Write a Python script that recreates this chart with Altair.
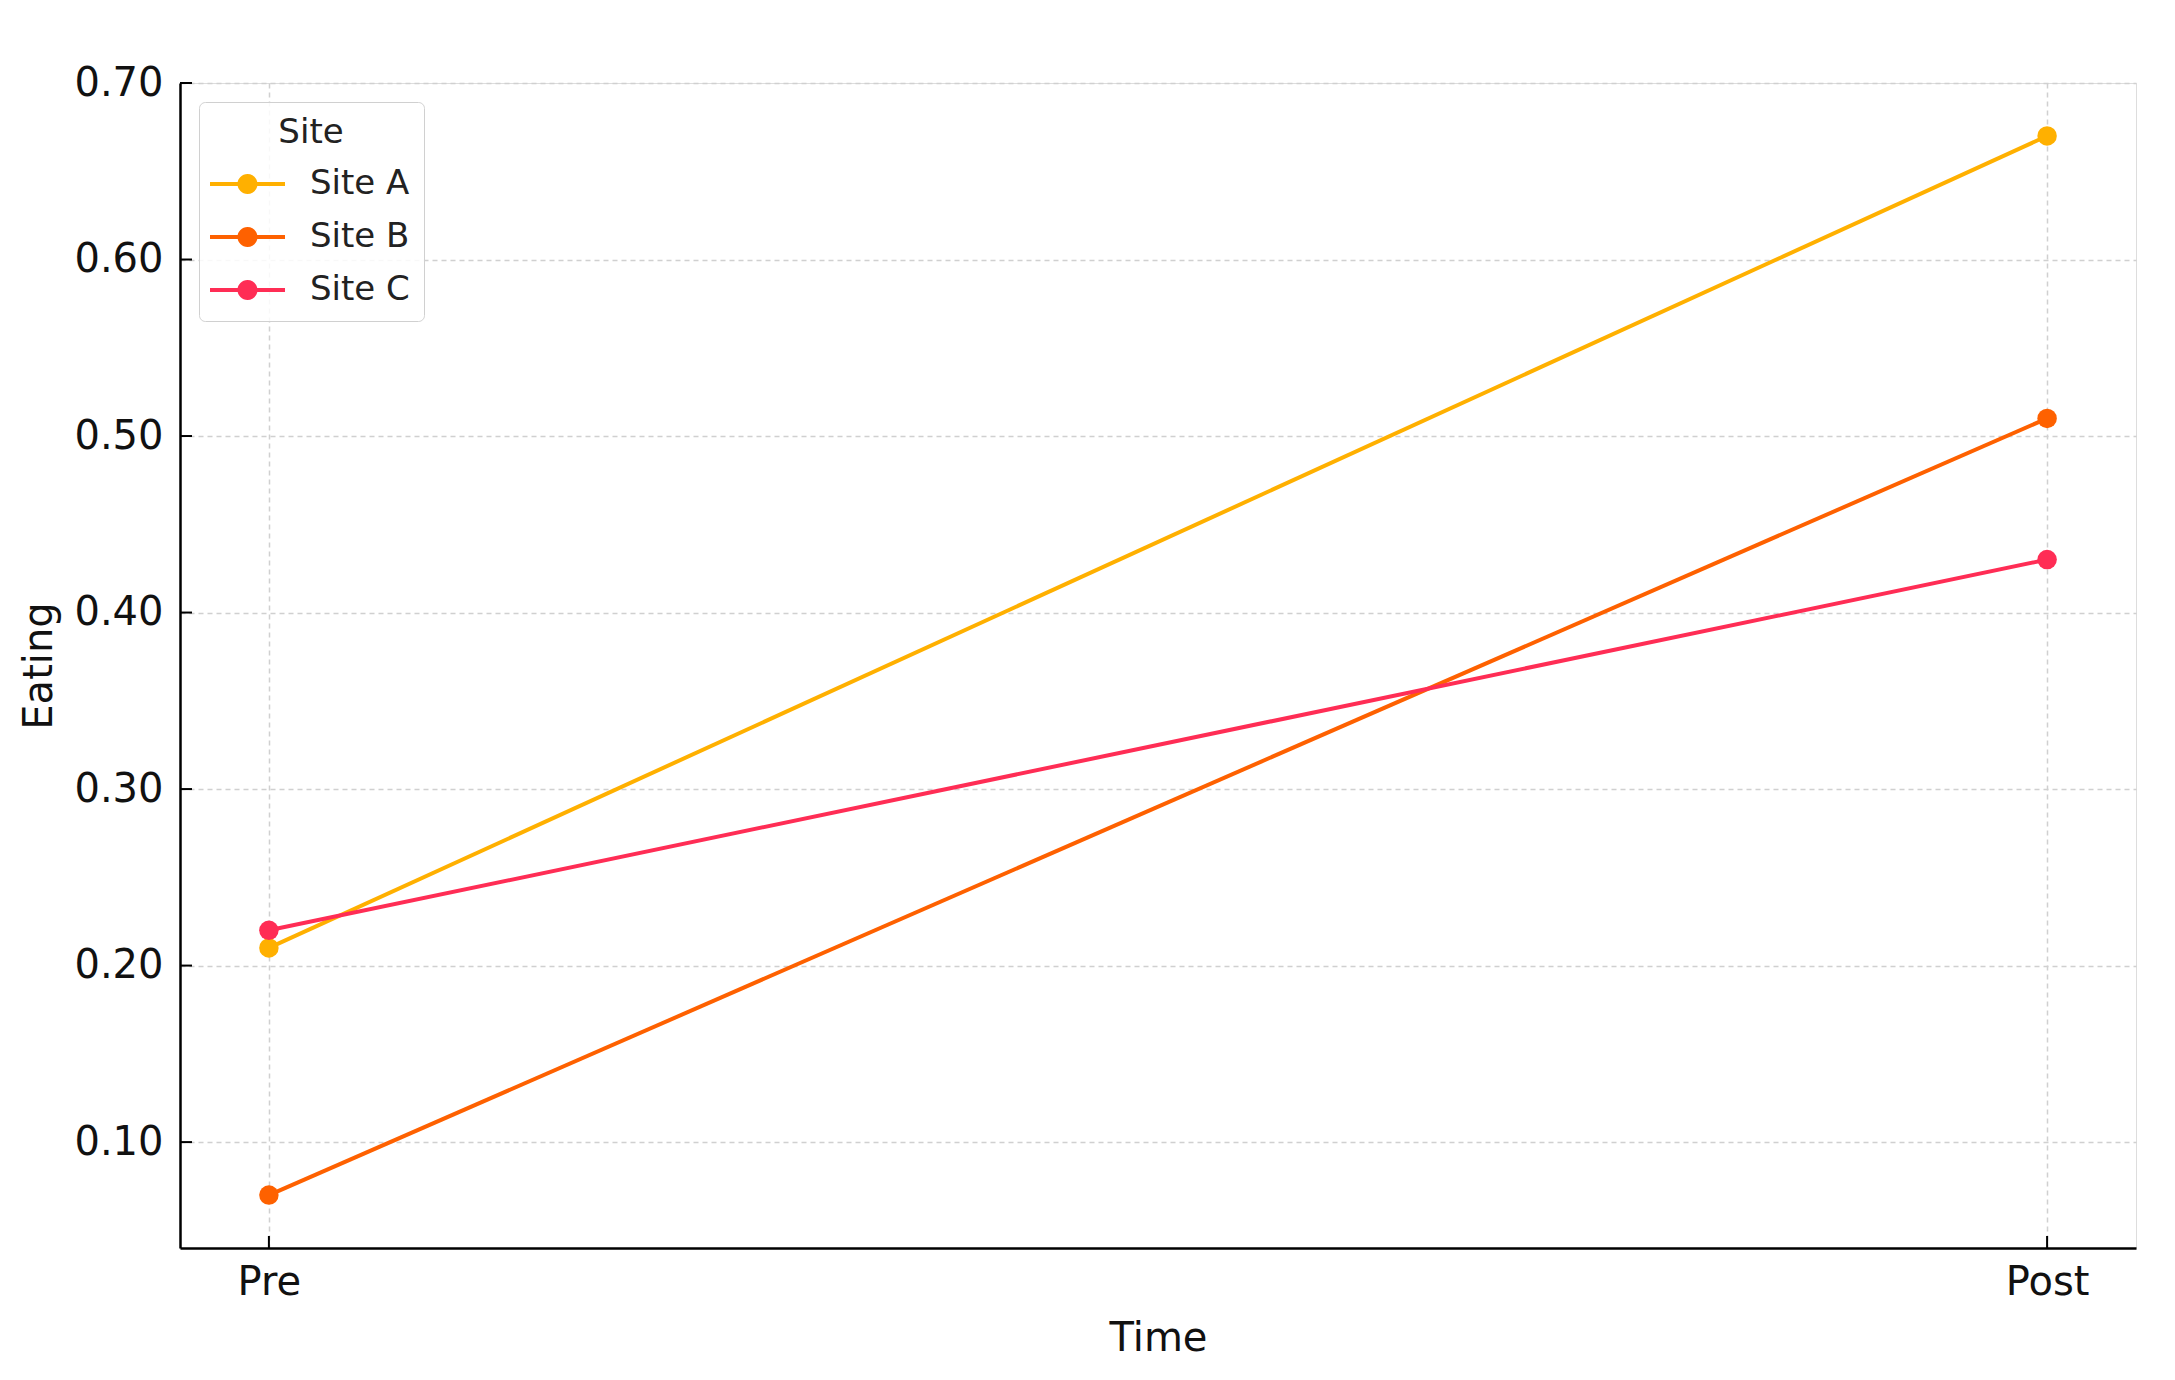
import altair as alt
import pandas as pd

times = ["Pre", "Post"]
sites = ["Site A", "Site B", "Site C"]
site_a = [0.21, 0.67]
site_b = [0.07, 0.51]
site_c = [0.22, 0.43]
colors = ["#FFB000", "#FE6100", "#FF2D55"]
y_ticks = [0.10, 0.20, 0.30, 0.40, 0.50, 0.60, 0.70]

rows = []
for s, vals in zip(sites, [site_a, site_b, site_c]):
    for i, (t, v) in enumerate(zip(times, vals)):
        rows.append({"Time": t, "idx": i, "Site": s, "Eating": v})
df = pd.DataFrame(rows)
ytick_df = pd.DataFrame({"v": y_ticks})
xtick_df = pd.DataFrame({"idx": list(range(len(times)))})

W, H = 1956, 1165
FONT = "DejaVu Sans"

x_scale = alt.Scale(domain=[-0.05, len(times) - 1 + 0.05], nice=False, zero=False)
y_scale = alt.Scale(domain=[0.04, 0.70], nice=False, zero=False)
color_scale = alt.Scale(domain=sites, range=colors)

label_expr = " : ".join(
    [f"datum.value == {i} ? '{t}'" for i, t in enumerate(times)]
) + " : ''"

grid_kw = dict(grid=True, gridColor="#d0d0d0", gridDash=[5, 4], gridWidth=1.5,
               domainColor="#000000", domainWidth=2.5, tickSize=0, ticks=False,
               labelFont=FONT, titleFont=FONT, labelFontSize=40, titleFontSize=40,
               labelColor="#111111", titleColor="#111111", titleFontWeight="normal")

x_enc = alt.X("idx:Q", scale=x_scale,
              axis=alt.Axis(title="Time", values=list(range(len(times))), labelExpr=label_expr,
                            labelAngle=0, labelPadding=14, titlePadding=16, **grid_kw))
y_enc = alt.Y("Eating:Q", scale=y_scale,
              axis=alt.Axis(title="Eating", values=y_ticks, format=".2f", labelPadding=17,
                            titlePadding=14, **grid_kw))

# legend symbol: line segment with a dot, shifted right within the symbol box
sym_path = ("M-1.333,-0.14L3.667,-0.14L3.667,0.14L-1.333,0.14Z "
            "M1.834,0A0.667,0.667 0 1,1 0.5,0A0.667,0.667 0 1,1 1.834,0Z")

lines = alt.Chart(df).mark_line(strokeWidth=4).encode(
    x=x_enc, y=y_enc,
    color=alt.Color("Site:N", scale=color_scale, legend=None),
    detail="Site:N",
)
points = alt.Chart(df).mark_point(filled=True, size=380, opacity=1, shape="circle").encode(
    x=x_enc, y=y_enc,
    color=alt.Color("Site:N", scale=color_scale, title="Site",
                    legend=alt.Legend(orient="none", legendX=19, legendY=19,
                                      symbolType=sym_path, symbolSize=900, symbolStrokeWidth=0,
                                      symbolOpacity=1,
                                      labelFont=FONT, labelFontSize=34, labelColor="#222222",
                                      titleFont=FONT, titleFontSize=34, titleColor="#222222",
                                      titleFontWeight="normal", titleAnchor="middle",
                                      labelOffset=63, rowPadding=19, titlePadding=17,
                                      padding=14, fillColor="rgba(255,255,255,0.85)",
                                      strokeColor="#d0d0d0", cornerRadius=6)),
)
ytick_marks = alt.Chart(ytick_df).mark_rule(color="#000000", strokeWidth=2).encode(
    y=alt.Y("v:Q", scale=y_scale), x=alt.value(0), x2=alt.value(12)
)
xtick_marks = alt.Chart(xtick_df).mark_rule(color="#000000", strokeWidth=2).encode(
    x=alt.X("idx:Q", scale=x_scale), y=alt.value(H), y2=alt.value(H - 12)
)

chart = alt.layer(lines, points, ytick_marks, xtick_marks).resolve_legend(
    color="independent"
).properties(
    width=W, height=H,
    autosize=alt.AutoSizeParams(type="none"),
    padding={"left": 172, "top": 75, "right": 31, "bottom": 124},
).configure_view(stroke=None).configure(background="white")

chart.save("out.html", embed_options={"renderer": "svg", "actions": False})
